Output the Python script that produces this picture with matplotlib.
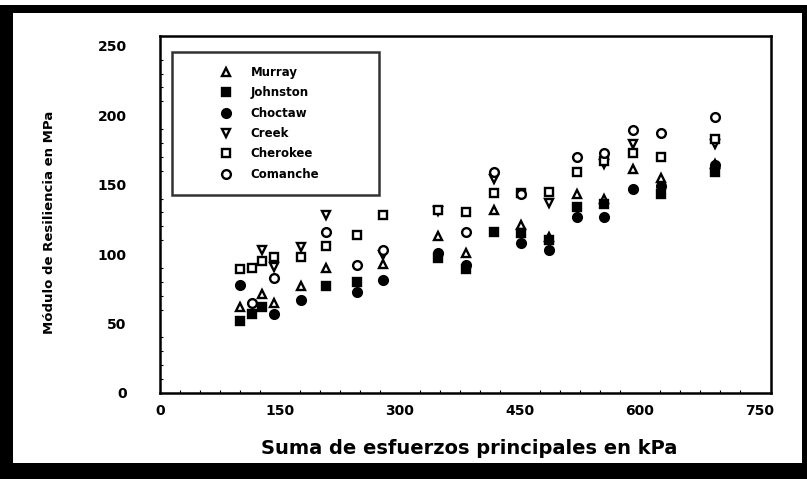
import matplotlib
matplotlib.use("Agg")
import matplotlib.pyplot as plt
from matplotlib.patches import Rectangle
from matplotlib.ticker import MultipleLocator

plt.rcParams["font.family"] = ["DejaVu Sans"]
plt.rcParams["font.weight"] = "bold"

# ---------------- data ----------------
murray_x = [100, 128, 142, 176, 208, 279, 348, 383, 418, 451, 486, 522, 555, 591, 626, 694]
murray_y = [62, 71, 65, 77, 90, 93, 113, 101, 132, 121, 112, 143, 140, 161, 155, 165]

johnston_x = [100, 115, 128, 208, 246, 348, 383, 418, 451, 486, 522, 555, 626, 694]
johnston_y = [52, 57, 62, 77, 80, 97, 89, 116, 115, 110, 134, 136, 143, 159]

choctaw_x = [100, 142, 176, 246, 279, 348, 383, 451, 486, 522, 555, 591, 626, 694]
choctaw_y = [78, 57, 67, 73, 81, 101, 92, 108, 103, 127, 127, 147, 149, 164]

creek_x = [128, 142, 176, 208, 279, 348, 418, 486, 555, 591, 694]
creek_y = [103, 91, 105, 128, 99, 131, 154, 137, 165, 179, 179]

cherokee_x = [100, 115, 128, 142, 176, 208, 246, 279, 348, 383, 418, 451, 486, 522, 555, 591, 626, 694]
cherokee_y = [89, 90, 95, 98, 98, 106, 114, 128, 132, 130, 144, 144, 145, 159, 167, 173, 170, 183]

comanche_x = [115, 142, 208, 246, 279, 383, 418, 451, 522, 555, 591, 626, 694]
comanche_y = [65, 83, 116, 92, 103, 116, 159, 143, 170, 173, 189, 187, 199]

series_names = ["Murray", "Johnston", "Choctaw", "Creek", "Cherokee", "Comanche"]
x_ticks = [0, 150, 300, 450, 600, 750]
y_ticks = [0, 50, 100, 150, 200, 250]
x_label = "Suma de esfuerzos principales en kPa"
y_label = "Módulo de Resiliencia en MPa"

# ---------------- figure ----------------
W, H = 807, 479
fig = plt.figure(figsize=(W / 100, H / 100), dpi=100)
fig.patch.set_facecolor("white")

# outer thick black frame of the scanned figure
def band(x0, y0, x1, y1):
    fig.add_artist(Rectangle((x0 / W, 1 - y1 / H), (x1 - x0) / W, (y1 - y0) / H,
                             transform=fig.transFigure, facecolor="black",
                             edgecolor="none", zorder=10))

band(0, 5, 807, 13)
band(0, 5, 13, 479)
band(0, 463, 807, 479)
band(802, 5, 807, 479)

ax = fig.add_axes([160 / W, 1 - 393 / H, 611 / W, 357 / H])

data = [
    (murray_x, murray_y, "^", False),
    (johnston_x, johnston_y, "s", True),
    (choctaw_x, choctaw_y, "o", True),
    (creek_x, creek_y, "v", False),
    (cherokee_x, cherokee_y, "s", False),
    (comanche_x, comanche_y, "o", False),
]
for name, (xs, ys, m, filled) in zip(series_names, data):
    ax.plot(xs, ys, linestyle="none", marker=m, markersize=6.3,
            markerfacecolor="black" if filled else "white",
            markeredgecolor="black", markeredgewidth=1.7, label=name)

ax.set_xlim(2, 764)
ax.set_ylim(0, 257)
ax.set_xticks(x_ticks)
ax.set_yticks(y_ticks)
ax.xaxis.set_minor_locator(MultipleLocator(25))
ax.yaxis.set_minor_locator(MultipleLocator(10))
ax.tick_params(axis="both", which="major", length=0, labelsize=10)
ax.tick_params(axis="x", which="major", pad=8)
ax.tick_params(axis="y", which="major", pad=24)
ax.tick_params(axis="both", which="minor", direction="in", length=2, width=0.8)
for lbl in ax.get_xticklabels() + ax.get_yticklabels():
    lbl.set_fontweight("bold")

for sp in ax.spines.values():
    sp.set_linewidth(1.8)

ax.set_xlabel(x_label, fontsize=14, fontweight="bold", va="center")
ax.xaxis.set_label_coords((469 - 160) / 611, (393 - 448) / 357)
ax.set_ylabel(y_label, fontsize=9.5, fontweight="bold", va="center")
ax.yaxis.set_label_coords((50 - 160) / 611, (393 - 222) / 357)

fs = 8.5
leg = ax.legend(loc="upper left",
                bbox_to_anchor=((172 - 160) / 611, 0, 207 / 611, (393 - 52) / 357),
                mode="expand", borderaxespad=0, fontsize=fs, frameon=True,
                fancybox=False, borderpad=1.2, handlelength=6.8,
                handletextpad=-1.36, labelspacing=0.62, numpoints=1)
leg.get_frame().set_edgecolor("black")
leg.get_frame().set_linewidth(1.8)
for t in leg.get_texts():
    t.set_fontweight("bold")

fig.savefig("out.png", dpi=100)
